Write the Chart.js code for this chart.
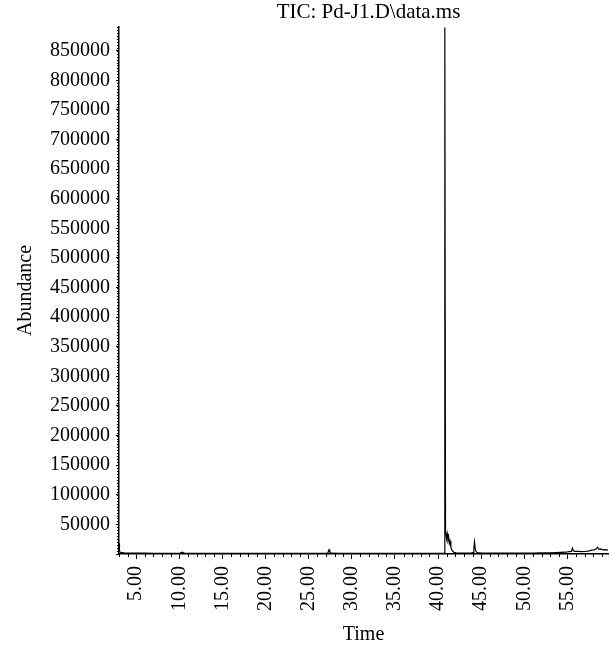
<!DOCTYPE html>
<html lang="en">
<head>
  <meta charset="UTF-8" />
  <title>TIC: Pd-J1.D\data.ms</title>
  <script src="https://cdn.jsdelivr.net/npm/chart.js"></script>
<style>
  html, body {
    margin: 0;
    padding: 0;
    background: #fff;
  }
  #wrap {
    position: relative;
    width: 612px;
    height: 648px;
  }
</style>
</head>
<body>
  <div id="wrap">
    <canvas id="ticChart"></canvas>
  </div>

<script>
  // Chromatogram (time in minutes, abundance in counts)
  const times = [
    3.00, 3.03, 3.08, 3.15, 3.30, 3.60, 4.20, 5.00, 6.00, 7.00, 8.00, 9.00,
    10.10, 10.35, 10.55, 11.50, 12.50, 13.50, 14.50, 15.50, 16.50, 17.50, 18.50,
    19.50, 20.50, 21.50, 22.50, 23.50, 24.50, 25.50, 26.50, 27.20, 27.35, 27.45,
    27.60, 28.50, 29.50, 30.50, 31.50, 32.50, 33.50, 34.50, 35.50, 36.50, 37.50,
    38.50, 39.50, 40.50, 40.74, 40.78, 40.86, 40.98, 41.06, 41.14, 41.22, 41.30,
    41.38, 41.48, 41.62, 41.80, 42.10, 42.60, 43.20, 43.80, 44.05, 44.15, 44.22,
    44.30, 44.42, 44.65, 45.20, 46.00, 47.00, 48.00, 49.00, 50.00, 51.00, 52.00,
    53.00, 53.60, 54.20, 54.80, 55.20, 55.45, 55.58, 55.68, 55.85, 56.20, 56.60,
    57.00, 57.40, 57.80, 58.10, 58.35, 58.50, 58.65, 58.85, 59.10, 59.40, 59.70
  ];
  const abundance = [
    18000, 12000, 5000, 3000, 2200, 1800, 1500, 1400, 1400, 1300, 1300, 1300,
    1400, 3000, 1500, 1300, 1300, 1200, 1200, 1200, 1200, 1200, 1200,
    1200, 1200, 1200, 1200, 1200, 1200, 1200, 1300, 1400, 7000, 2500,
    1400, 1200, 1200, 1200, 1200, 1200, 1200, 1200, 1200, 1200, 1200,
    1200, 1200, 1300, 1500, 889000, 40000, 26000, 34000, 24000, 29000, 18000,
    22000, 11000, 6000, 3000, 1800, 1500, 1400, 1500, 2500, 10000, 20000,
    9000, 3500, 1800, 1600, 1500, 1500, 1400, 1400, 1500, 1600, 1800,
    2000, 2300, 2600, 3000, 4000, 4500, 10000, 5500, 4500, 4500, 4000,
    4200, 5000, 6500, 7000, 9000, 11500, 8000, 8500, 7000, 7500, 6500
  ];

  const yMax = 890000;
  const yStep = 50000;
  const xMin = 3.0;
  const xMax = 59.7;
  const xMajor = [5, 10, 15, 20, 25, 30, 35, 40, 45, 50, 55];
  const chartTitle = 'TIC: Pd-J1.D\\data.ms';

  const serif = '"Liberation Serif", "DejaVu Serif", serif';

  const points = times.map((t, i) => ({ x: t, y: abundance[i] }));

  // small ticks: every minute on x, every 5000 on y, plus title text
  const extras = {
    id: 'extras',
    afterDraw(chart) {
      const ctx = chart.ctx;
      const xs = chart.scales.x;
      const ys = chart.scales.y;
      const area = chart.chartArea;
      ctx.save();
      ctx.strokeStyle = '#000';
      ctx.lineWidth = 1;
      ctx.beginPath();
      for (let m = Math.ceil(xMin); m <= xMax; m++) {
        if (m % 5 === 0) continue;
        const px = Math.round(xs.getPixelForValue(m)) + 0.5;
        ctx.moveTo(px, area.bottom);
        ctx.lineTo(px, area.bottom + 3);
      }
      for (let v = 5000; v <= yMax; v += 5000) {
        const py = Math.round(ys.getPixelForValue(v)) + 0.5;
        ctx.moveTo(area.left, py);
        ctx.lineTo(area.left - 2, py);
      }
      ctx.stroke();

      ctx.fillStyle = '#000';
      ctx.font = '21px ' + serif;
      ctx.textAlign = 'center';
      ctx.textBaseline = 'middle';
      ctx.fillText(chartTitle, (area.left + area.right) / 2 + 5, 12);
      ctx.restore();
    }
  };

  new Chart(document.getElementById('ticChart'), {
    type: 'line',
    data: {
      datasets: [{
        data: points,
        borderColor: '#000',
        borderWidth: 1.2,
        pointRadius: 0,
        tension: 0,
        fill: false
      }]
    },
    options: {
      responsive: true,
      maintainAspectRatio: false,
      animation: false,
      layout: { padding: { top: 27, right: 4, left: 10, bottom: 0 } },
      plugins: {
        legend: { display: false },
        tooltip: { enabled: false }
      },
      scales: {
        x: {
          type: 'linear',
          min: xMin,
          max: xMax,
          afterBuildTicks: axis => {
            axis.ticks = xMajor.map(v => ({ value: v }));
          },
          ticks: {
            color: '#000',
            font: { family: serif, size: 20 },
            minRotation: 90,
            maxRotation: 90,
            padding: 7,
            callback: v => Number(v).toFixed(2)
          },
          grid: {
            drawOnChartArea: false,
            drawTicks: true,
            tickLength: 5,
            tickColor: '#000'
          },
          border: { color: '#000', width: 1.5 },
          title: {
            display: true,
            text: 'Time',
            color: '#000',
            font: { family: serif, size: 20 },
            padding: { top: 5, bottom: 1 }
          }
        },
        y: {
          min: 0,
          max: yMax,
          afterBuildTicks: axis => {
            const list = [];
            for (let v = 0; v <= yMax; v += yStep) list.push({ value: v });
            axis.ticks = list;
          },
          ticks: {
            color: '#000',
            font: { family: serif, size: 20 },
            padding: 6,
            callback: v => (v === 0 ? '' : String(v))
          },
          grid: {
            drawOnChartArea: false,
            drawTicks: true,
            tickLength: 3,
            tickColor: '#000'
          },
          border: { color: '#000', width: 1.5 },
          title: {
            display: true,
            text: 'Abundance',
            color: '#000',
            font: { family: serif, size: 20 },
            padding: { top: 4, bottom: 6 }
          }
        }
      }
    },
    plugins: [extras]
  });
</script>
</body>
</html>
